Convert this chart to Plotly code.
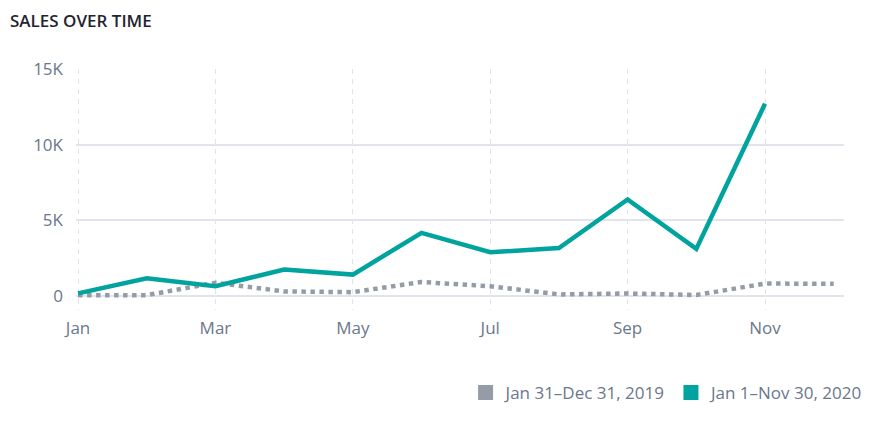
import plotly.graph_objects as go

months = ["Jan", "Feb", "Mar", "Apr", "May", "Jun", "Jul", "Aug", "Sep", "Oct", "Nov", "Dec"]
sales_2019 = [50, 50, 870, 300, 250, 920, 640, 100, 160, 60, 820, 800]
sales_2020 = [170, 1170, 640, 1740, 1410, 4170, 2890, 3160, 6380, 3110, 12700]
label_2019 = "Jan 31–Dec 31, 2019"
label_2020 = "Jan 1–Nov 30, 2020"
x_tick_idx = [0, 2, 4, 6, 8, 10]
y_ticks = [0, 5000, 10000, 15000]
y_tick_text = ["0", "5K", "10K", "15K"]

GRAY = "#959ca8"
TEAL = "#00a39d"
FONT = "Open Sans, DejaVu Sans, sans-serif"

fig = go.Figure()
fig.add_trace(go.Scatter(
    x=list(range(len(sales_2019))), y=sales_2019, mode="lines",
    line=dict(color=GRAY, width=4.5, dash="dot"), showlegend=False, hoverinfo="skip"))
fig.add_trace(go.Scatter(
    x=list(range(len(sales_2020))), y=sales_2020, mode="lines",
    line=dict(color=TEAL, width=4.5), showlegend=False, hoverinfo="skip"))
# legend entries with square swatches
fig.add_trace(go.Scatter(x=[None], y=[None], mode="markers", name=label_2019,
                         marker=dict(symbol="square", size=15, color=GRAY)))
fig.add_trace(go.Scatter(x=[None], y=[None], mode="markers", name=label_2020,
                         marker=dict(symbol="square", size=15, color=TEAL)))

fig.update_layout(
    width=881, height=432,
    margin=dict(l=76, r=34, t=69, b=122),
    paper_bgcolor="white", plot_bgcolor="white",
    font=dict(family=FONT, size=17, color="#6b778c"),
    title=dict(text="SALES OVER TIME", xref="container", yref="container",
               x=10/881, xanchor="left", y=1-21/432, yanchor="middle",
               font=dict(family=FONT, size=17, color="#1f2430", weight=600)),
    showlegend=True,
    legend=dict(orientation="h", x=1.032, xanchor="right", y=-0.344, yanchor="middle",
                font=dict(family=FONT, size=17, color="#6b778c"),
                itemwidth=30, traceorder="normal", bgcolor="rgba(0,0,0,0)"),
    xaxis=dict(range=[-0.03, 11.15], tickmode="array", tickvals=x_tick_idx,
               ticktext=[months[i] for i in x_tick_idx],
               showgrid=True, gridcolor="#dfe3eb", griddash="5px,5px", gridwidth=1.3,
               zeroline=False, showline=False, ticks="", ticklabelstandoff=6,
               fixedrange=True),
    yaxis=dict(range=[-930, 15000], tickmode="array", tickvals=y_ticks, ticktext=y_tick_text,
               showgrid=True, gridcolor="#e1e4eb", gridwidth=1.5,
               zeroline=False, showline=False, ticks="", ticklabelstandoff=12,
               fixedrange=True),
)

fig.write_html("out.html")
